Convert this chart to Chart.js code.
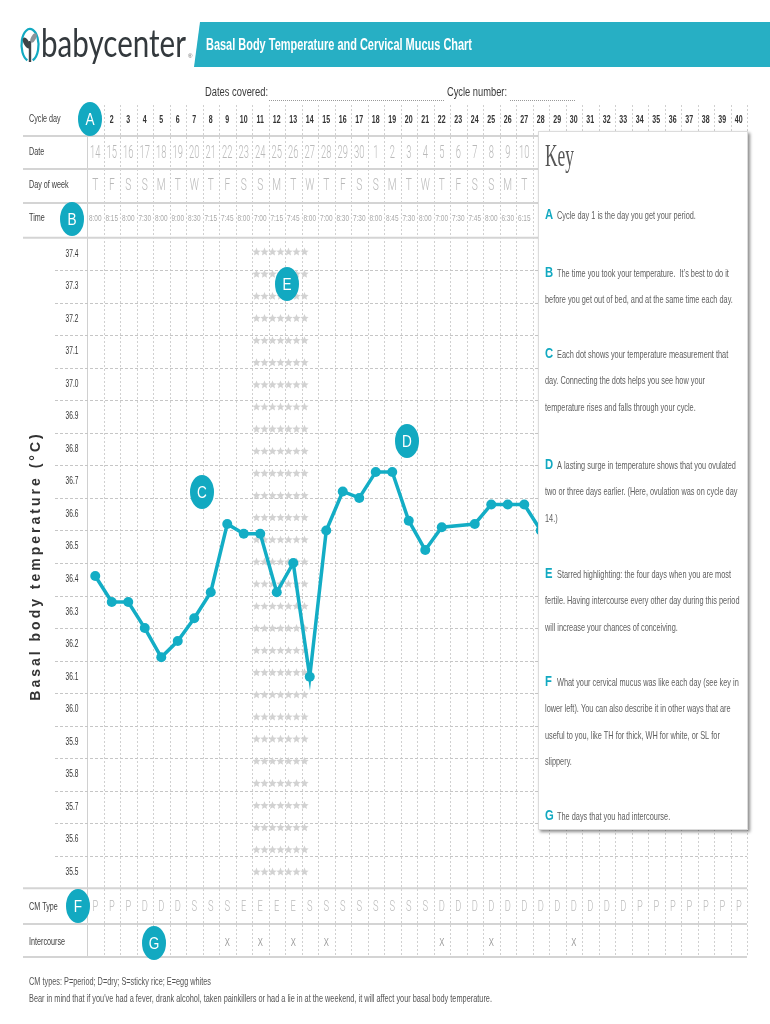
<!DOCTYPE html>
<html>
<head>
<meta charset="utf-8">
<script src="https://cdn.jsdelivr.net/npm/chart.js@4.4.0/dist/chart.umd.min.js"></script>
<style>
  html, body { margin: 0; padding: 0; background: #fff; }
  #wrap { position: relative; width: 770px; height: 1024px; }
</style>
</head>
<body>
<div id="wrap"><canvas id="bbtChart" width="770" height="1024"></canvas></div>
<script>
// chart data
const cycleDays = ['1','2','3','4','5','6','7','8','9','10','11','12','13','14','15','16','17','18','19','20',
  '21','22','23','24','25','26','27','28','29','30','31','32','33','34','35','36','37','38','39','40'];
const dates = ['14','15','16','17','18','19','20','21','22','23','24','25','26','27','28','29','30','1','2','3','4','5','6','7','8','9','10'];
const weekDays = ['T','F','S','S','M','T','W','T','F','S','S','M','T','W','T','F','S','S','M','T','W','T','F','S','S','M','T'];
const times = ['8:00','8:15','8:00','7:30','8:00','9:00','8:30','7:15','7:45','8:00','7:00','7:15','7:45','8:00',
  '7:00','8:30','7:30','8:00','8:45','7:30','8:00','7:00','7:30','7:45','8:00','6:30','6:15'];
const temps = [36.41, 36.33, 36.33, 36.25, 36.16, 36.21, 36.28, 36.36, 36.57, 36.54, 36.54, 36.36, 36.45, 36.10,
  36.55, 36.67, 36.65, 36.73, 36.73, 36.58, 36.49, 36.56, null, 36.57, 36.63, 36.63, 36.63, 36.55];
const tempTicks = [37.4, 37.3, 37.2, 37.1, 37.0, 36.9, 36.8, 36.7, 36.6, 36.5, 36.4, 36.3, 36.2, 36.1, 36.0, 35.9, 35.8, 35.7, 35.6, 35.5];
const cmTypes = ['P','P','P','D','D','D','S','S','S','E','E','E','E','S','S','S','S','S','S','S','S',
  'D','D','D','D','D','D','D','D','D','D','D','D','P','P','P','P','P','P','P'];
const intercourseDays = [9, 11, 13, 15, 22, 25, 30];
const fertileDays = [11, 12, 13, 14];

const TEAL = '#12a9c1';
const SANS = '"Liberation Sans", Arial, sans-serif';

// draw text squeezed horizontally (the original uses a narrow font)
function txt(ctx, s, x, y, o) {
  ctx.save();
  ctx.font = o.font;
  ctx.fillStyle = o.color || '#444';
  ctx.textAlign = o.align || 'left';
  ctx.textBaseline = 'middle';
  if (o.spacing) ctx.letterSpacing = o.spacing;
  ctx.translate(x, y);
  if (o.rot) ctx.rotate(o.rot);
  ctx.scale(o.sx || 1, 1);
  if (o.max) ctx.fillText(s, 0, 0, o.max / (o.sx || 1));
  else ctx.fillText(s, 0, 0);
  ctx.restore();
}

function line(ctx, x1, y1, x2, y2) {
  ctx.beginPath(); ctx.moveTo(x1, y1); ctx.lineTo(x2, y2); ctx.stroke();
}

function star(ctx, cx, cy, r) {
  ctx.beginPath();
  for (let i = 0; i < 10; i++) {
    const rad = i % 2 ? r * 0.45 : r;
    const a = -Math.PI / 2 + i * Math.PI / 5;
    ctx.lineTo(cx + rad * Math.cos(a), cy + rad * Math.sin(a));
  }
  ctx.closePath();
  ctx.fill();
}

function badge(ctx, letter, cx, cy) {
  ctx.save();
  ctx.fillStyle = TEAL;
  ctx.beginPath(); ctx.ellipse(cx, cy, 12, 17, 0, 0, Math.PI * 2); ctx.fill();
  ctx.restore();
  txt(ctx, letter, cx, cy + 1, { font: '17px ' + SANS, color: '#fff', align: 'center', sx: 0.8 });
}

// header, table rows, grid
const sheetPlugin = {
  id: 'sheet',
  beforeDatasetsDraw(chart) {
    const { ctx, chartArea: a, scales: { x, y } } = chart;
    const colW = (a.right - a.left) / cycleDays.length;
    ctx.save();

    // logo
    ctx.strokeStyle = TEAL; ctx.lineWidth = 2.2;
    ctx.beginPath(); ctx.ellipse(30, 45, 8.5, 16, 0, Math.PI * 0.6, Math.PI * 2.4); ctx.stroke();
    ctx.strokeStyle = '#3e4448'; ctx.lineWidth = 2.4;
    line(ctx, 30, 62, 30, 41);
    ctx.fillStyle = '#3e4448';
    ctx.beginPath(); ctx.ellipse(26.5, 43, 2.8, 6, -0.5, 0, Math.PI * 2); ctx.fill();
    ctx.fillStyle = '#8d9398';
    ctx.beginPath(); ctx.ellipse(33.5, 38, 2.4, 5, 0.5, 0, Math.PI * 2); ctx.fill();
    txt(ctx, 'babycenter', 41, 45, { font: '38px Lato, ' + SANS, color: '#33393d', max: 145 });
    txt(ctx, '®', 188, 56, { font: '6px ' + SANS, color: '#666' });

    // title bar
    ctx.fillStyle = '#27afc4';
    ctx.beginPath(); ctx.moveTo(200, 22); ctx.lineTo(770, 22); ctx.lineTo(770, 67); ctx.lineTo(194, 67); ctx.closePath(); ctx.fill();
    txt(ctx, 'Basal Body Temperature and Cervical Mucus Chart', 206, 45, { font: 'bold 17px ' + SANS, color: '#fff', max: 266 });

    txt(ctx, 'Dates covered:', 205, 93, { font: '12px ' + SANS, color: '#3a3a3a', max: 63 });
    txt(ctx, 'Cycle number:', 447, 93, { font: '12px ' + SANS, color: '#3a3a3a', max: 60 });
    ctx.strokeStyle = '#999'; ctx.lineWidth = 1; ctx.setLineDash([1, 1]);
    line(ctx, 269, 100.5, 444, 100.5);
    line(ctx, 510, 100.5, 576, 100.5);

    // vertical column lines
    ctx.strokeStyle = '#d0d0d0'; ctx.lineWidth = 1;
    for (let i = 0; i <= cycleDays.length; i++) {
      const px = Math.round(a.left + i * colW) + 0.5;
      ctx.setLineDash(i === 0 ? [] : [2, 2]);
      line(ctx, px, 105, px, 957);
    }

    // solid row separators
    ctx.setLineDash([]); ctx.strokeStyle = '#d4d4d4'; ctx.lineWidth = 2;
    [136, 169, 203, a.top, a.bottom, 924, 957].forEach(py => line(ctx, 23, py, a.right, py));

    // temperature row borders
    ctx.setLineDash([3, 2]); ctx.lineWidth = 1; ctx.strokeStyle = '#c6c6c6';
    tempTicks.slice(0, -1).forEach(t => {
      const py = Math.round(y.getPixelForValue(t - 0.05)) + 0.5;
      line(ctx, 55, py, a.right, py);
    });
    ctx.setLineDash([]);

    // fertile window stars
    ctx.fillStyle = '#d2d2d2';
    const sx0 = x.getPixelForValue(fertileDays[0] - 1) - colW / 2 + 4.5;
    const yTop = y.getPixelForValue(tempTicks[0]);
    const yBot = y.getPixelForValue(tempTicks[tempTicks.length - 1]);
    const nRows = 29;
    for (let r = 0; r < nRows; r++) {
      const py = yTop - 2 + r * (yBot - yTop + 2) / (nRows - 1);
      for (let s = 0; s < 7; s++) star(ctx, sx0 + s * 8, py, 4.4);
    }

    // row labels
    const lab = { font: '10px ' + SANS, color: '#3c3c3c', sx: 0.72 };
    txt(ctx, 'Cycle day', 29, 119, lab);
    txt(ctx, 'Date', 29, 152, lab);
    txt(ctx, 'Day of week', 29, 185, lab);
    txt(ctx, 'Time', 29, 218, lab);
    txt(ctx, 'CM Type', 29, 907, lab);
    txt(ctx, 'Intercourse', 29, 942, lab);

    // temperature tick labels
    tempTicks.forEach(t => txt(ctx, t.toFixed(1), 72, y.getPixelForValue(t),
      { font: '10px ' + SANS, color: '#333', align: 'center', sx: 0.66 }));

    // table cells
    cycleDays.forEach((d, i) => txt(ctx, d, x.getPixelForValue(i), 120,
      { font: 'bold 10px ' + SANS, color: '#333', align: 'center', sx: 0.7 }));
    dates.forEach((d, i) => txt(ctx, d, x.getPixelForValue(i), 153,
      { font: '300 18px Roboto, ' + SANS, color: '#b9b9b9', align: 'center', sx: 0.52 }));
    weekDays.forEach((d, i) => txt(ctx, d, x.getPixelForValue(i), 186,
      { font: '300 17px Roboto, ' + SANS, color: '#b9b9b9', align: 'center', sx: 0.6 }));
    times.forEach((d, i) => txt(ctx, d, x.getPixelForValue(i), 219,
      { font: '9px ' + SANS, color: '#a9a9a9', align: 'center', sx: 0.72 }));
    cmTypes.forEach((d, i) => txt(ctx, d, x.getPixelForValue(i), 907,
      { font: '300 15px Roboto, ' + SANS, color: '#b9b9b9', align: 'center', sx: 0.62 }));
    intercourseDays.forEach(d => txt(ctx, 'X', x.getPixelForValue(d - 1), 943,
      { font: '11px ' + SANS, color: '#9a9a9a', align: 'center', sx: 0.7 }));

    // side title
    txt(ctx, 'Basal body temperature (°C)', 36, 566,
      { font: 'bold 14px ' + SANS, color: '#333', align: 'center', rot: -Math.PI / 2, spacing: '3px' });

    // footer
    txt(ctx, 'CM types: P=period; D=dry; S=sticky rice; E=egg whites', 29, 982,
      { font: '11px ' + SANS, color: '#555', max: 182 });
    txt(ctx, "Bear in mind that if you've had a fever, drank alcohol, taken painkillers or had a lie in at the weekend, it will affect your basal body temperature.", 29, 999,
      { font: '11px ' + SANS, color: '#555', max: 463 });

    ctx.restore();
  },
  afterDatasetsDraw(chart) {
    const { ctx } = chart;
    ctx.save();
    // key panel
    ctx.shadowColor = 'rgba(0,0,0,0.45)'; ctx.shadowOffsetX = 2; ctx.shadowOffsetY = 2; ctx.shadowBlur = 3;
    ctx.fillStyle = '#fff';
    ctx.fillRect(538, 131, 210, 699);
    ctx.shadowColor = 'transparent';
    ctx.strokeStyle = '#dcdcdc'; ctx.lineWidth = 1;
    ctx.strokeRect(538.5, 131.5, 209, 698);
    ctx.restore();

    txt(ctx, 'Key', 545, 158, { font: '31px "Liberation Serif", "DejaVu Serif", serif', color: '#555', max: 29 });
    const body = { font: '10.5px ' + SANS, color: '#5e5e5e', sx: 0.7 };
    const key = [
      ['A', 216, ['Cycle day 1 is the day you get your period.']],
      ['B', 274, ['The time you took your temperature.  It\u2019s best to do it', 'before you get out of bed, and at the same time each day.']],
      ['C', 355, ['Each dot shows your temperature measurement that', 'day. Connecting the dots helps you see how your', 'temperature rises and falls through your cycle.']],
      ['D', 466, ['A lasting surge in temperature shows that you ovulated', 'two or three days earlier. (Here, ovulation was on cycle day', '14.)']],
      ['E', 575, ['Starred highlighting: the four days when you are most', 'fertile. Having intercourse every other day during this period', 'will increase your chances of conceiving.']],
      ['F', 683, ['What your cervical mucus was like each day (see key in', 'lower left). You can also describe it in other ways that are', 'useful to you, like TH for thick, WH for white, or SL for', 'slippery.']],
      ['G', 817, ['The days that you had intercourse.']]
    ];
    key.forEach(([letter, ky, lines]) => {
      txt(ctx, letter, 545, ky - 1, { font: 'bold 15px ' + SANS, color: TEAL, sx: 0.75 });
      lines.forEach((l, j) => txt(ctx, l, j === 0 ? 557 : 545, ky + j * 26.5, body));
    });

    // letter markers
    badge(ctx, 'A', 90, 119);
    badge(ctx, 'B', 72, 219);
    badge(ctx, 'C', 202, 492);
    badge(ctx, 'D', 407, 441);
    badge(ctx, 'E', 287, 284);
    badge(ctx, 'F', 78, 906);
    badge(ctx, 'G', 154, 943);
  }
};

const ctx = document.getElementById('bbtChart');

new Chart(ctx, {
  type: 'line',
  data: {
    labels: cycleDays,
    datasets: [
      {
        label: 'Basal body temperature',
        data: temps,
        borderColor: '#13adc5',
        backgroundColor: '#13adc5',
        borderWidth: 3.5,
        pointRadius: 5,
        pointBorderWidth: 0,
        spanGaps: true,
        tension: 0,
        clip: false,
      },
    ],
  },
  options: {
    responsive: false,
    animation: false,
    layout: {
      padding: { left: 87, right: 23, top: 237.75, bottom: 135.75 },
    },
    plugins: {
      legend: { display: false },
      tooltip: { enabled: false },
    },
    scales: {
      x: { display: false, offset: true },
      y: { display: false, min: 35.45, max: 37.45 },
    },
  },
  plugins: [sheetPlugin],
});
</script>
</body>
</html>
